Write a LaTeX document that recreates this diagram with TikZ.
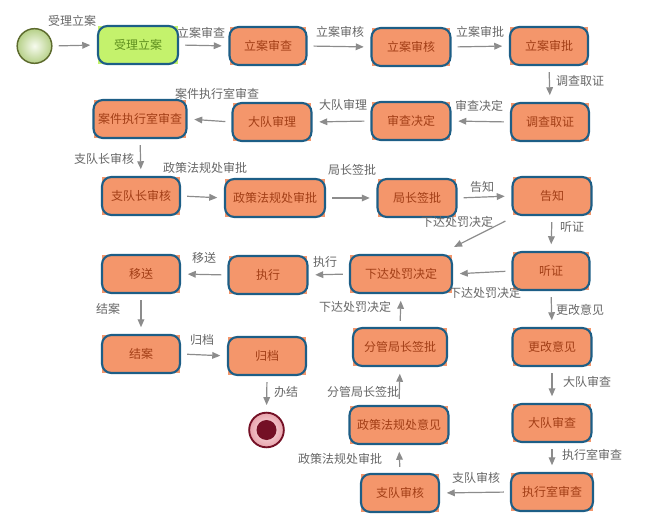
\documentclass[tikz,border=0pt]{standalone}
\usepackage{fontspec}
\setmainfont{Noto Sans CJK SC}
\usetikzlibrary{arrows.meta,backgrounds}
\definecolor{boxfill}{HTML}{F4966B}
\definecolor{bordc}{HTML}{1D5E86}
\definecolor{boxtext}{HTML}{A23E16}
\definecolor{greenfill}{HTML}{C4F26C}
\definecolor{greentext}{HTML}{5E8F1E}
\definecolor{lblc}{HTML}{666666}
\definecolor{arrc}{HTML}{8C8C8C}
\definecolor{startin}{HTML}{F7FBEF}
\definecolor{startout}{HTML}{B6D088}
\definecolor{startbd}{HTML}{5D6B2E}
\definecolor{endred}{HTML}{741025}
\definecolor{endin}{HTML}{FBE6E6}
\definecolor{endout}{HTML}{E8A3AC}
\begin{document}
\begin{tikzpicture}[x=0.75pt,y=-0.75pt,
  box/.style={rectangle, rounded corners=7pt, draw=bordc, line width=1.6pt, fill=boxfill,
    text=boxtext, minimum height=28.5pt, inner sep=2pt, font=\fontsize{9}{11}\selectfont},
  greenbox/.style={box, fill=greenfill, text=greentext},
  lbl/.style={text=lblc, font=\fontsize{9}{11}\selectfont, inner sep=0pt},
  flow/.style={draw=arrc, line width=0.9pt, -{Triangle[length=6pt,width=5pt]},
    shorten <=4.5pt, shorten >=5pt},
]
\useasboundingbox (0,0) rectangle (653,520);

% start / end
\node[circle, draw=startbd, line width=1.1pt, inner color=startin, outer color=startout,
  minimum size=26pt, inner sep=0pt] (start) at (34.5,46) {};
\node[circle, draw=endred, line width=1.4pt, inner color=endin, outer color=endout,
  minimum size=26pt, inner sep=0pt] (end) at (266.5,430) {};
\fill[endred] (end.center) circle (7.5pt);

% row 1
\node[greenbox, minimum width=60pt] (slla) at (138,45) {受理立案};
\node[box, minimum width=57.75pt] (lasc) at (268,46) {立案审查};
\node[box, minimum width=59.25pt] (lash) at (411,47) {立案审核};
\node[box, minimum width=58.5pt] (lasp) at (549,46) {立案审批};
% row 2
\node[box, minimum width=58.5pt] (dcqz) at (550,122) {调查取证};
\node[box, minimum width=59.25pt] (scjd) at (411,121) {审查决定};
\node[box, minimum width=59.25pt] (ddsl) at (272,122) {大队审理};
\node[box, minimum width=69.75pt] (ajzx) at (140,119) {案件执行室审查};
% row 3
\node[box, minimum width=58.5pt] (zdzsh) at (141,196) {支队长审核};
\node[box, minimum width=75pt] (zcfgsp) at (275,198) {政策法规处审批};
\node[box, minimum width=59.25pt] (jzqp) at (417,198) {局长签批};
\node[box, minimum width=59.25pt] (gz) at (552,196) {告知};
% row 4
\node[box, minimum width=57.75pt] (tz) at (551,271) {听证};
\node[box, minimum width=76.5pt] (xdcf) at (401,274) {下达处罚决定};
\node[box, minimum width=59.25pt] (zx) at (268,275) {执行};
\node[box, minimum width=58.5pt] (ys) at (141,274) {移送};
% row 5
\node[box, minimum width=58.5pt] (ja) at (141,354) {结案};
\node[box, minimum width=58.5pt] (gd) at (267,356) {归档};
\node[box, minimum width=70.5pt] (fgjz) at (400,347) {分管局长签批};
\node[box, minimum width=59.25pt] (ggyj) at (552,347) {更改意见};
% row 6
\node[box, minimum width=74.25pt] (zcfgyj) at (399,425) {政策法规处意见};
\node[box, minimum width=59.25pt] (ddsc) at (552,423) {大队审查};
% row 7
\node[box, minimum width=58.5pt] (zdsh) at (400,493) {支队审核};
\node[box, minimum width=61.5pt] (zxssc) at (552,492) {执行室审查};

% corner fills
\begin{scope}[on background layer]
\fill[greenfill] ([shift={(1pt,1pt)}]slla.south west) rectangle ([shift={(-1pt,-1pt)}]slla.north east);
\foreach \n in {lasc,lash,lasp,dcqz,scjd,ddsl,ajzx,zdzsh,zcfgsp,jzqp,gz,tz,xdcf,zx,ys,ja,gd,fgjz,ggyj,zcfgyj,ddsc,zdsh,zxssc}
  \fill[boxfill] ([shift={(1pt,1pt)}]\n.south west) rectangle ([shift={(-1pt,-1pt)}]\n.north east);
\end{scope}

% connectors
\draw[flow] (start.east) -- (slla.west);
\draw[flow] (slla.east) -- (lasc.west);
\draw[flow] (lasc.east) -- (lash.west);
\draw[flow] (lash.east) -- (lasp.west);
\draw[flow] (lasp.south) -- (dcqz.north);
\draw[flow] (dcqz.west) -- (scjd.east);
\draw[flow] (scjd.west) -- (ddsl.east);
\draw[flow] (ddsl.west) -- (ajzx.east);
\draw[flow] (ajzx.south) -- (zdzsh.north);
\draw[flow] (zdzsh.east) -- (zcfgsp.west);
\draw[flow] (zcfgsp.east) -- (jzqp.west);
\draw[flow] (jzqp.east) -- (gz.west);
\draw[flow, shorten <=0pt, shorten >=0pt] ([shift={(-6,5)}]gz.south west) -- ([shift={(1,-7)}]xdcf.north east);
\draw[flow] (gz.south) -- (tz.north);
\draw[flow] (tz.west) -- (xdcf.east);
\draw[flow] (xdcf.west) -- (zx.east);
\draw[flow] (zx.west) -- (ys.east);
\draw[flow] (ys.south) -- (ja.north);
\draw[flow] (ja.east) -- (gd.west);
\draw[flow] (gd.south) -- (end.north);
\draw[flow] (tz.south) -- (ggyj.north);
\draw[flow] (ggyj.south) -- (ddsc.north);
\draw[flow] (ddsc.south) -- (zxssc.north);
\draw[flow] (zxssc.west) -- (zdsh.east);
\draw[flow] (zdsh.north) -- (zcfgyj.south);
\draw[flow] (zcfgyj.north) -- (fgjz.south);
\draw[flow] (fgjz.north) -- (xdcf.south);

% labels
\node[lbl] (l1) at (72,21) {受理立案};
\node[lbl] (l2) at (201,33) {立案审查};
\node[lbl] (l3) at (340,32) {立案审核};
\node[lbl] (l4) at (480,32) {立案审批};
\node[lbl] (l5) at (580,81) {调查取证};
\node[lbl] (l6) at (479,106) {审查决定};
\node[lbl] (l7) at (343,105) {大队审理};
\node[lbl] (l8) at (217,94) {案件执行室审查};
\node[lbl] (l9) at (104,159) {支队长审核};
\node[lbl] (l10) at (205,168) {政策法规处审批};
\node[lbl] (l11) at (352,170) {局长签批};
\node[lbl] (l12) at (482,187) {告知};
\node[lbl] (l13) at (457,222) {下达处罚决定};
\node[lbl] (l14) at (572,227) {听证};
\node[lbl] (l15) at (485,293) {下达处罚决定};
\node[lbl] (l16) at (325,262) {执行};
\node[lbl] (l17) at (204,258) {移送};
\node[lbl] (l18) at (108,309) {结案};
\node[lbl] (l19) at (202,340) {归档};
\node[lbl] (l20) at (286,392) {办结};
\node[lbl] (l21) at (355,307) {下达处罚决定};
\node[lbl] (l22) at (580,310) {更改意见};
\node[lbl] (l23) at (363,392) {分管局长签批};
\node[lbl] (l24) at (587,382) {大队审查};
\node[lbl] (l25) at (340,459) {政策法规处审批};
\node[lbl] (l26) at (592,455) {执行室审查};
\node[lbl] (l27) at (476,478) {支队审核};
\end{tikzpicture}
\end{document}
